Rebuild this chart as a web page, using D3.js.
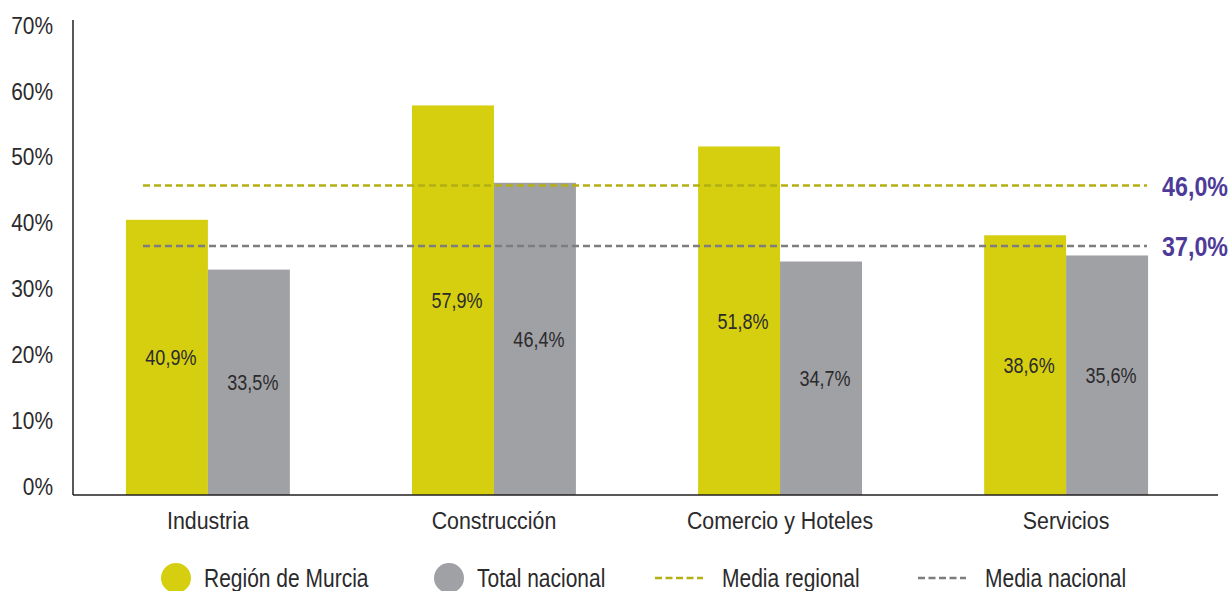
<!DOCTYPE html>
<html>
<head>
<meta charset="utf-8">
<script src="https://cdn.jsdelivr.net/npm/d3@7"></script>
<style>
  body { margin: 0; background: #fff; }
  svg { display: block; font-family: "Liberation Sans", Arial, sans-serif; }
</style>
</head>
<body>
<svg width="1232" height="591"></svg>
<script>
// data
var categories = ["Industria", "Construcción", "Comercio y Hoteles", "Servicios"];
var series = ["Región de Murcia", "Total nacional"];
var murcia = [40.9, 57.9, 51.8, 38.6];
var nacional = [33.5, 46.4, 34.7, 35.6];
var mediaRegional = 46.0;
var mediaNacional = 37.0;
var yTicks = [0, 10, 20, 30, 40, 50, 60, 70];

var colors = { "Región de Murcia": "#d5cf10", "Total nacional": "#a0a1a5" };
var textColor = "#2b2a2c";
var fmt = function(v){ return d3.format(".1f")(v).replace(".", ",") + "%"; };

var svg = d3.select("svg");

// the original uses a condensed face, so squeeze Liberation Sans horizontally
function narrow(sel, sx, fx, fy){
  sel.attr("transform", function(d, i){
    return "translate(" + fx(d, i) + "," + fy(d, i) + ") scale(" + sx + ",1)";
  });
  return sel;
}

var y = d3.scaleLinear().domain([0, 70]).range([495, 24]);
// the tick labels in the original sit a little off the bar scale
var yLab = d3.scaleLinear().domain([0, 70]).range([486, 25]);

var x0 = d3.scaleBand().domain(categories).range([65, 1209])
  .paddingInner(0.427).paddingOuter(0.213);
var x1 = d3.scaleBand().domain(series).range([0, x0.bandwidth()]);

var rows = categories.map(function(c, i){
  return { cat: c, vals: [
    { s: series[0], v: murcia[i] },
    { s: series[1], v: nacional[i] }
  ]};
});

// bars
var g = svg.append("g");
var groups = g.selectAll("g.cat").data(rows).enter().append("g")
  .attr("transform", function(d){ return "translate(" + x0(d.cat) + ",0)"; });

groups.selectAll("rect").data(function(d){ return d.vals; }).enter().append("rect")
  .attr("x", function(d){ return x1(d.s); })
  .attr("y", function(d){ return y(d.v); })
  .attr("width", x1.bandwidth())
  .attr("height", function(d){ return y(0) - y(d.v); })
  .attr("fill", function(d){ return colors[d.s]; });

// mean lines
var lineX0 = 143, lineX1 = 1147;
var means = [
  { v: mediaRegional, c: "#b3b013" },
  { v: mediaNacional, c: "#7d7d80" }
];
svg.selectAll("line.mean").data(means).enter().append("line")
  .attr("x1", lineX0).attr("x2", lineX1)
  .attr("y1", function(d){ return y(d.v); })
  .attr("y2", function(d){ return y(d.v); })
  .attr("stroke", function(d){ return d.c; })
  .attr("stroke-width", 2.5)
  .attr("stroke-dasharray", "7,4");

narrow(svg.selectAll("text.mean").data(means).enter().append("text"), 0.83,
    function(){ return 1228; }, function(d){ return y(d.v); })
  .attr("dy", "0.36em")
  .attr("text-anchor", "end")
  .attr("font-size", 28).attr("font-weight", "bold")
  .attr("fill", "#4e3b99")
  .text(function(d){ return fmt(d.v); });

// value labels, centered half way up each bar
narrow(groups.selectAll("text.val").data(function(d){ return d.vals; }).enter().append("text"), 0.82,
    function(d){ return x1(d.s) + x1.bandwidth() / 2 + 4; }, function(d){ return y(d.v / 2); })
  .attr("dy", "0.36em")
  .attr("text-anchor", "middle")
  .attr("font-size", 22)
  .attr("fill", textColor)
  .text(function(d){ return fmt(d.v); });

// axes
svg.append("line").attr("x1", 73).attr("x2", 73).attr("y1", 20).attr("y2", y(0))
  .attr("stroke", "#231f20").attr("stroke-width", 1.5);
svg.append("line").attr("x1", 73).attr("x2", 1218).attr("y1", y(0)).attr("y2", y(0))
  .attr("stroke", "#231f20").attr("stroke-width", 1.5);

narrow(svg.selectAll("text.ytick").data(yTicks).enter().append("text"), 0.87,
    function(){ return 53; }, function(d){ return yLab(d); })
  .attr("dy", "0.36em")
  .attr("text-anchor", "end")
  .attr("font-size", 24)
  .attr("fill", textColor)
  .text(function(d){ return d + "%"; });

narrow(svg.selectAll("text.cat").data(categories).enter().append("text"), 0.89,
    function(d){ return x0(d) + x0.bandwidth() / 2; }, function(){ return 520; })
  .attr("dy", "0.36em")
  .attr("text-anchor", "middle")
  .attr("font-size", 24)
  .attr("fill", textColor)
  .text(function(d){ return d; });

// legend
var legY = 578;
var leg = [
  { t: "circle", label: series[0], c: colors[series[0]], x: 176 },
  { t: "circle", label: series[1], c: colors[series[1]], x: 449 },
  { t: "line", label: "Media regional", c: means[0].c, x: 655 },
  { t: "line", label: "Media nacional", c: means[1].c, x: 918 }
];
var legG = svg.append("g");
legG.selectAll("circle").data(leg.filter(function(d){ return d.t === "circle"; })).enter()
  .append("circle")
  .attr("cx", function(d){ return d.x; }).attr("cy", legY).attr("r", 15)
  .attr("fill", function(d){ return d.c; });
legG.selectAll("line").data(leg.filter(function(d){ return d.t === "line"; })).enter()
  .append("line")
  .attr("x1", function(d){ return d.x; }).attr("x2", function(d){ return d.x + 48; })
  .attr("y1", legY).attr("y2", legY)
  .attr("stroke", function(d){ return d.c; })
  .attr("stroke-width", 2.5).attr("stroke-dasharray", "7,3.5");
narrow(legG.selectAll("text").data(leg).enter().append("text"), 0.84,
    function(d){ return d.x + (d.t === "circle" ? 28 : 67); }, function(){ return legY; })
  .attr("dy", "0.36em")
  .attr("font-size", 25)
  .attr("fill", textColor)
  .text(function(d){ return d.label; });
</script>
</body>
</html>
